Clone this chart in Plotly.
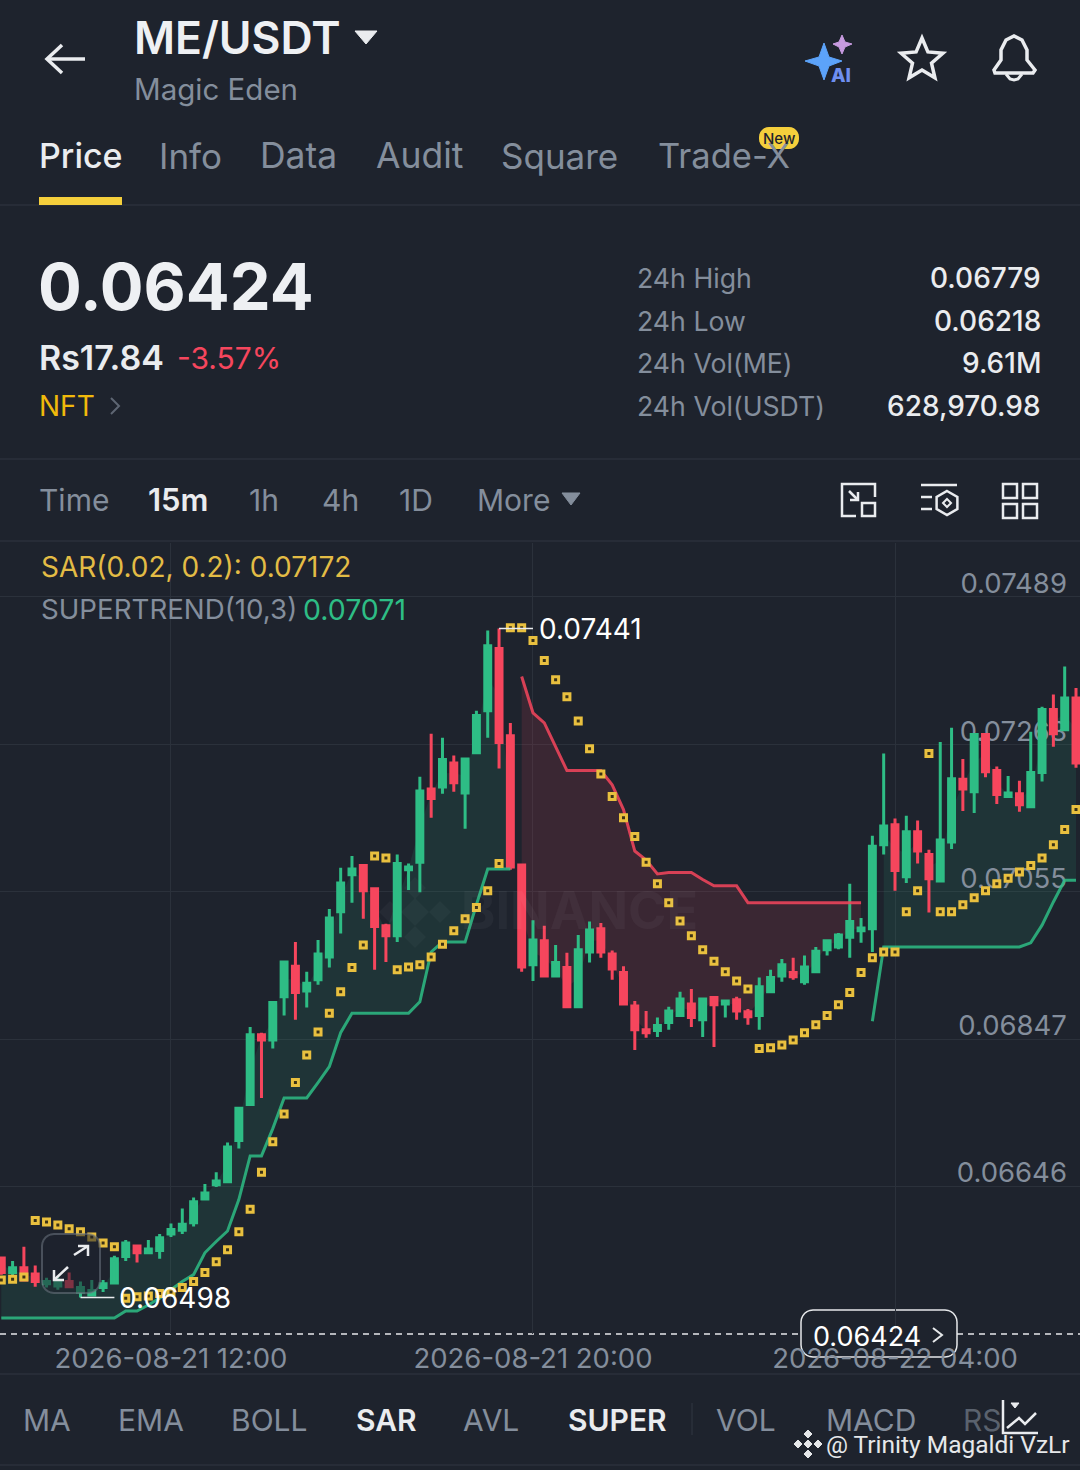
import math

import pandas as pd
import plotly.graph_objs as go
from plotly.subplots import make_subplots

W, H = 1080, 1470
BG = "#1E232D"
GRID = "#2B313B"
GRAY = "#848E9C"
WHITE = "#EAECEF"
YELLOW = "#F0B90B"
GREEN = "#2EBD85"
RED = "#F6465D"
FONT = "Inter"

# 15m candles, first one 2026-08-21 08:15
times = pd.date_range("2026-08-21 08:15", periods=96, freq="15min")

opens = [
    0.06550, 0.06531, 0.06537, 0.06529, 0.06516, 0.06513, 0.06519, 0.06505, 0.06501, 0.06511, 0.06517, 0.06552,
    0.06566, 0.06557, 0.06560, 0.06582, 0.06587, 0.06597, 0.06629, 0.06648, 0.06652, 0.06708, 0.06757, 0.06853,
    0.06846, 0.06906, 0.06949, 0.06914, 0.06930, 0.06962, 0.07026, 0.07079, 0.07092, 0.07059, 0.07006, 0.06992,
    0.07086, 0.07097, 0.07203, 0.07206, 0.07241, 0.07197, 0.07256, 0.07318, 0.07411, 0.07281, 0.07093, 0.06951,
    0.06985, 0.06935, 0.06947, 0.06892, 0.06969, 0.07002, 0.06966, 0.06940, 0.06893, 0.06860, 0.06859, 0.06870,
    0.06880, 0.06896, 0.06874, 0.06905, 0.06896, 0.06902, 0.06885, 0.06880, 0.06913, 0.06935, 0.06940, 0.06927,
    0.06941, 0.06972, 0.06976, 0.06990, 0.06999, 0.07002, 0.07122, 0.07151, 0.07076, 0.07141, 0.07108, 0.07070,
    0.07126, 0.07217, 0.07199, 0.07283, 0.07230, 0.07192, 0.07196, 0.07177, 0.07227, 0.07320, 0.07290, 0.07337,
]
highs = [
    0.06552, 0.06546, 0.06565, 0.06540, 0.06524, 0.06525, 0.06531, 0.06519, 0.06521, 0.06521, 0.06553, 0.06574,
    0.06567, 0.06574, 0.06582, 0.06596, 0.06616, 0.06631, 0.06649, 0.06665, 0.06705, 0.06754, 0.06864, 0.06856,
    0.06900, 0.06955, 0.06983, 0.06941, 0.06986, 0.07030, 0.07089, 0.07106, 0.07093, 0.07059, 0.07009, 0.07108,
    0.07095, 0.07221, 0.07284, 0.07278, 0.07252, 0.07247, 0.07318, 0.07438, 0.07441, 0.07300, 0.07093, 0.07014,
    0.07006, 0.06979, 0.06968, 0.06993, 0.07012, 0.07010, 0.06971, 0.06949, 0.06900, 0.06886, 0.06877, 0.06892,
    0.06913, 0.06917, 0.06903, 0.06906, 0.06900, 0.06906, 0.06889, 0.06933, 0.06944, 0.06959, 0.06961, 0.06964,
    0.06976, 0.06985, 0.06996, 0.07066, 0.07017, 0.07135, 0.07255, 0.07160, 0.07164, 0.07157, 0.07115, 0.07272,
    0.07293, 0.07247, 0.07285, 0.07285, 0.07236, 0.07222, 0.07215, 0.07287, 0.07324, 0.07342, 0.07384, 0.07352,
]
lows = [
    0.06528, 0.06525, 0.06520, 0.06512, 0.06511, 0.06508, 0.06511, 0.06498, 0.06501, 0.06505, 0.06516, 0.06546,
    0.06544, 0.06557, 0.06549, 0.06578, 0.06582, 0.06592, 0.06629, 0.06645, 0.06652, 0.06697, 0.06755, 0.06766,
    0.06834, 0.06880, 0.06874, 0.06891, 0.06923, 0.06947, 0.06995, 0.07039, 0.07016, 0.06944, 0.06955, 0.06983,
    0.07057, 0.07054, 0.07161, 0.07196, 0.07199, 0.07145, 0.07256, 0.07278, 0.07233, 0.07086, 0.06941, 0.06928,
    0.06935, 0.06934, 0.06892, 0.06892, 0.06954, 0.06961, 0.06930, 0.06896, 0.06832, 0.06849, 0.06850, 0.06860,
    0.06880, 0.06864, 0.06850, 0.06836, 0.06877, 0.06874, 0.06867, 0.06860, 0.06913, 0.06927, 0.06930, 0.06923,
    0.06940, 0.06964, 0.06973, 0.06961, 0.06982, 0.06969, 0.07108, 0.07056, 0.07067, 0.07095, 0.07025, 0.07070,
    0.07116, 0.07171, 0.07168, 0.07220, 0.07181, 0.07192, 0.07170, 0.07177, 0.07214, 0.07265, 0.07290, 0.07234,
]
closes = [
    0.06531, 0.06537, 0.06521, 0.06519, 0.06519, 0.06519, 0.06512, 0.06511, 0.06507, 0.06516, 0.06549, 0.06570,
    0.06557, 0.06562, 0.06577, 0.06588, 0.06595, 0.06625, 0.06637, 0.06653, 0.06699, 0.06752, 0.06853, 0.06846,
    0.06898, 0.06955, 0.06912, 0.06925, 0.06966, 0.07017, 0.07067, 0.07087, 0.07056, 0.07005, 0.06992, 0.07095,
    0.07090, 0.07200, 0.07189, 0.07246, 0.07212, 0.07247, 0.07311, 0.07415, 0.07271, 0.07090, 0.06948, 0.06986,
    0.06935, 0.06954, 0.06892, 0.06972, 0.07000, 0.06969, 0.06945, 0.06896, 0.06860, 0.06856, 0.06866, 0.06886,
    0.06903, 0.06877, 0.06903, 0.06895, 0.06900, 0.06886, 0.06878, 0.06920, 0.06933, 0.06951, 0.06934, 0.06948,
    0.06970, 0.06985, 0.06993, 0.07012, 0.07003, 0.07120, 0.07149, 0.07085, 0.07141, 0.07113, 0.07073, 0.07129,
    0.07218, 0.07203, 0.07283, 0.07228, 0.07195, 0.07197, 0.07180, 0.07227, 0.07320, 0.07284, 0.07337, 0.07241,
]
sar = [
    0.06521, 0.06522, 0.06525, 0.06600, 0.06598, 0.06594, 0.06589, 0.06585, 0.06578, 0.06570, 0.06565, 0.06497,
    0.06499, 0.06500, 0.06503, 0.06505, 0.06511, 0.06519, 0.06531, 0.06545, 0.06561, 0.06585, 0.06615, 0.06665,
    0.06706, 0.06744, 0.06787, 0.06825, 0.06857, 0.06883, 0.06913, 0.06947, 0.06979, 0.07106, 0.07103, 0.06944,
    0.06948, 0.06951, 0.06962, 0.06980, 0.06999, 0.07016, 0.07032, 0.07056, 0.07095, 0.07442, 0.07442, 0.07423,
    0.07393, 0.07364, 0.07339, 0.07303, 0.07262, 0.07225, 0.07192, 0.07161, 0.07134, 0.07097, 0.07066, 0.07039,
    0.07013, 0.06992, 0.06972, 0.06956, 0.06941, 0.06928, 0.06917, 0.06834, 0.06835, 0.06839, 0.06846, 0.06856,
    0.06867, 0.06880, 0.06895, 0.06912, 0.06940, 0.06961, 0.06969, 0.06969, 0.07026, 0.07056, 0.07255, 0.07026,
    0.07026, 0.07036, 0.07046, 0.07056, 0.07066, 0.07074, 0.07083, 0.07092, 0.07103, 0.07122, 0.07144, 0.07173,
]
# supertrend(10,3) in its three runs: up, down, up
trend_up_1 = [
    0.06471, 0.06471, 0.06471, 0.06471, 0.06471, 0.06471, 0.06471, 0.06471, 0.06471, 0.06471, 0.06471, 0.06480,
    0.06480, 0.06488, 0.06497, 0.06508, 0.06519, 0.06528, 0.06557, 0.06572, 0.06586, 0.06628, 0.06687, 0.06687,
    0.06724, 0.06766, 0.06766, 0.06766, 0.06787, 0.06809, 0.06856, 0.06883, 0.06883, 0.06883, 0.06883, 0.06883,
    0.06883, 0.06899, 0.06969, 0.06983, 0.06983, 0.06983, 0.07036, 0.07087, 0.07087, 0.07087,
]
trend_down = [
    0.07369, 0.07315, 0.07300, 0.07265, 0.07230, 0.07230, 0.07230, 0.07230, 0.07209, 0.07173, 0.07113, 0.07100,
    0.07080, 0.07082, 0.07082, 0.07082, 0.07072, 0.07063, 0.07063, 0.07063, 0.07039, 0.07039, 0.07039, 0.07039,
    0.07039, 0.07039, 0.07039, 0.07039, 0.07039, 0.07039, 0.07039,
]
trend_up_2 = [
    0.06872, 0.06976, 0.06976, 0.06976, 0.06976, 0.06976, 0.06976, 0.06976, 0.06976, 0.06976, 0.06976, 0.06976,
    0.06976, 0.06976, 0.06982, 0.07007, 0.07040, 0.07071, 0.07071,
]

y_tick_vals = [0.07489, 0.07268, 0.07055, 0.06847, 0.06646]
y_tick_text = ["0.07489", "0.07268", "0.07055", "0.06847", "0.06646"]
x_tick_vals = ["2026-08-21 12:00", "2026-08-21 20:00", "2026-08-22 04:00"]

tabs = [("Price", 40, WHITE, 34), ("Info", 160, GRAY, 35), ("Data", 261, GRAY, 35.5), ("Audit", 377, GRAY, 35.5),
        ("Square", 502, GRAY, 35), ("Trade-X", 659, GRAY, 34.5)]
stats = [("24h High", "0.06779", 278), ("24h Low", "0.06218", 321),
         ("24h Vol(ME)", "9.61M", 363), ("24h Vol(USDT)", "628,970.98", 406)]
intervals = [("Time", 40, GRAY, 400), ("15m", 149, WHITE, 600), ("1h", 250, GRAY, 400),
             ("4h", 323, GRAY, 400), ("1D", 400, GRAY, 400), ("More", 478, GRAY, 400)]
indicators = [("MA", 24, GRAY, 400), ("EMA", 119, GRAY, 400), ("BOLL", 232, GRAY, 400),
              ("SAR", 357, WHITE, 600), ("AVL", 464, GRAY, 400), ("SUPER", 569, WHITE, 600),
              ("VOL", 717, GRAY, 400), ("MACD", 827, GRAY, 400), ("RS", 964, "#5A626E", 400)]


def px(x, y):
    return x / W, 1 - y / H


def label(text, x, y, size, color=WHITE, anchor="left", weight=400, family=FONT):
    # annotations sit about 2px inside their anchor
    shift = {"left": -2, "right": 2, "center": 0}[anchor]
    xp, yp = px(x + shift, y)
    fig.add_annotation(x=xp, y=yp, xref="paper", yref="paper", text=text, showarrow=False, borderpad=0,
                       xanchor=anchor, yanchor="middle",
                       font=dict(size=size, color=color, family=family, weight=weight))


def poly(points, color=WHITE, width=3, fill=None, close=False, layer="above"):
    coords = [px(*p) for p in points]
    path = "M " + " L ".join(f"{a:.5f},{b:.5f}" for a, b in coords) + (" Z" if close else "")
    fig.add_shape(type="path", path=path, xref="paper", yref="paper", layer=layer,
                  line=dict(color=color, width=width), fillcolor=fill)


def box(x0, y0, x1, y1, color=WHITE, width=2.5, fill=None, layer="above", radius=0):
    if radius:
        r = radius
        pts = []
        for cx, cy, a0 in [(x1 - r, y0 + r, -90), (x1 - r, y1 - r, 0), (x0 + r, y1 - r, 90), (x0 + r, y0 + r, 180)]:
            for k in range(7):
                a = math.radians(a0 + k * 15)
                pts.append((cx + r * math.cos(a), cy + r * math.sin(a)))
        poly(pts, color, width, fill, True, layer)
    else:
        poly([(x0, y0), (x1, y0), (x1, y1), (x0, y1)], color, width, fill, True, layer)


fig = make_subplots(specs=[[{"secondary_y": True}]])

# fills sit on the base axis so the candles on the overlay axis stay on top
mids = [(o + c) / 2 for o, c in zip(opens, closes)]
runs = [
    (0, trend_up_1, "rgba(46,189,133,0.11)", GREEN),
    (46, trend_down, "rgba(246,70,93,0.13)", RED),
    (77, trend_up_2, "rgba(46,189,133,0.11)", GREEN),
]
for start, trend, fill, _ in runs:
    skip = 1 if start == 77 else 0  # last run fills only after its jump
    idx = times[start + skip: start + len(trend)]
    fig.add_trace(go.Scatter(x=idx, y=trend[skip:], mode="lines", line=dict(width=0), hoverinfo="skip",
                             showlegend=False), secondary_y=False)
    fig.add_trace(go.Scatter(x=idx, y=mids[start + skip: start + len(trend)], mode="lines", line=dict(width=0),
                             fill="tonexty", fillcolor=fill, hoverinfo="skip", showlegend=False),
                  secondary_y=False)

# price scale labels go under the candles too, nudged down a touch towards their gridline
fig.add_trace(go.Scatter(x=["2026-08-22 07:48"] * len(y_tick_vals), y=[v * 0.9994 for v in y_tick_vals],
                         mode="text", text=y_tick_text, textposition="top left",
                         textfont=dict(size=27.5, color=GRAY, family=FONT),
                         hoverinfo="skip", showlegend=False), secondary_y=False)

fig.add_trace(go.Candlestick(x=times, open=opens, high=highs, low=lows, close=closes, whiskerwidth=0,
                             increasing=dict(line=dict(color=GREEN, width=3), fillcolor=GREEN),
                             decreasing=dict(line=dict(color=RED, width=3), fillcolor=RED),
                             showlegend=False), secondary_y=True)

for start, trend, _, color in runs:
    fig.add_trace(go.Scatter(x=times[start: start + len(trend)], y=trend, mode="lines",
                             line=dict(color=color, width=3), opacity=0.85, showlegend=False),
                  secondary_y=True)

fig.add_trace(go.Scatter(x=times, y=sar, mode="markers", showlegend=False,
                         marker=dict(symbol="square", size=6, color="#3A3116",
                                     line=dict(color="#E9C03F", width=3))), secondary_y=True)

# high / low callouts
hi = highs.index(max(highs))
lo = lows.index(min(lows))
for i in (hi, lo):
    val = highs[i] if i == hi else lows[i]
    fig.add_trace(go.Scatter(x=[times[i], times[i + 3]], y=[val, val], mode="lines", showlegend=False,
                             line=dict(color=WHITE, width=1.5)), secondary_y=True)
    fig.add_annotation(x=times[i + 3], y=math.log10(val), xref="x", yref="y2", text=f"{val:.5f}", showarrow=False,
                       xanchor="left", xshift=3 if i == lo else 4, yshift=-1,
                       font=dict(size=28, color="#FFFFFF", family=FONT))

fig.update_xaxes(range=["2026-08-21 08:13:18", "2026-08-22 08:05:18"], domain=[0, 1], rangeslider_visible=False,
                 tickmode="array", tickvals=x_tick_vals, ticktext=x_tick_vals, ticks="outside", ticklen=0,
                 tickcolor="rgba(0,0,0,0)", tickfont=dict(size=27.5, color=GRAY, family=FONT),
                 showgrid=True, gridcolor=GRID, gridwidth=1, showline=False, zeroline=False)
y_range = [math.log10(0.06450), math.log10(0.07571)]
y_domain = [1 - 1334 / H, 1 - 543 / H]
fig.update_yaxes(type="log", range=y_range, domain=y_domain, tickmode="array", tickvals=y_tick_vals,
                 showticklabels=False, ticks="", showgrid=True, gridcolor=GRID, gridwidth=1, zeroline=False,
                 secondary_y=False)
fig.update_yaxes(type="log", range=y_range, showticklabels=False, ticks="", showgrid=False, zeroline=False,
                 secondary_y=True)

fig.update_layout(width=W, height=H, margin=dict(l=0, r=0, t=0, b=0), autosize=False, paper_bgcolor=BG,
                  plot_bgcolor=BG, showlegend=False, boxgap=0.25, boxgroupgap=0.3, hovermode=False,
                  font=dict(family=FONT))

# separators
for y in (205, 459, 541, 1374, 1465):
    poly([(0, y), (W, y)], GRID, 1.5, layer="below")
poly([(692, 1403), (692, 1435)], GRID, 1.5)

# last price line, clamped to the bottom of the chart
poly([(0, 1334), (W, 1334)], "#E6E8EA", 1.5, layer="below")
fig.layout.shapes[-1].line.dash = "6px,5px"
box(801, 1310, 957, 1357, "#E6E8EA", 1.5, BG, "below", 12)
label("0.06424", 814, 1336, 27, "#FFFFFF")
poly([(933, 1328), (942, 1335), (933, 1342)], "#E6E8EA", 2)

# header
poly([(85, 59), (47, 59)], WHITE, 3.5)
poly([(62, 45), (47, 59), (62, 73)], WHITE, 3.5)
label("ME/USDT", 135, 38, 44.5, "#EEF0F3", weight=600)
poly([(355, 31), (377, 31), (366, 44)], WHITE, 1, WHITE, True)
label("Magic Eden", 135, 89, 29.5, GRAY)
poly([(805, 61), (819, 57), (824, 43), (829, 57), (842, 61), (829, 66), (824, 80), (819, 66)],
     "#5CA3FA", 1, "#5CA3FA", True)
poly([(833, 44), (839, 42), (842, 35), (845, 42), (852, 44), (845, 47), (842, 54), (839, 47)],
     "#C79ADF", 1, "#C79ADF", True)
label("AI", 832, 76, 19, "#6E8FF0", weight=800)
star = []
for k in range(10):
    r = 22 if k % 2 == 0 else 10
    a = math.radians(-90 + k * 36)
    star.append((922 + r * math.cos(a), 60 + r * math.sin(a)))
poly(star, WHITE, 3.5, None, True)
poly([(994, 70), (1001, 60), (1001, 50), (1006, 40), (1014, 36), (1022, 40), (1027, 50), (1027, 60), (1035, 70),
      (1033, 73), (995, 73)], WHITE, 3.5, None, True)
poly([(1006, 74), (1010, 79), (1014, 80), (1018, 79), (1022, 74)], WHITE, 3)

for text, x, color, size in tabs:
    label(text, x, 156, size, color, weight=500 if text == "Price" else 400)
box(39, 197, 122, 205, YELLOW, 0, "#F5CF3C")
box(759, 127, 799, 149, "#F5CF3C", 0, "#F5CF3C", radius=10)
label("New", 779, 138, 15, "#1E232D", "center", 500)

# price block
label("0.06424", 39, 287, 65, "#EEF0F3", weight=700)
label("Rs17.84", 40, 357, 34, WHITE, weight=600)
label("-3.57%", 178, 358, 30, RED)
label("NFT", 40, 406, 28, YELLOW)
poly([(111, 398), (119, 406), (111, 414)], "#5E6673", 2)
for name, value, y in stats:
    label(name, 638, y, 26.7, GRAY)
    label(value, 1040, y, 28, WHITE, "right", 500)

# interval row
for text, x, color, weight in intervals:
    label(text, x, 500, 31 if weight == 600 else 30, color, weight=weight)
poly([(562, 493), (580, 493), (571, 505)], GRAY, 1, GRAY, True)
poly([(875, 497), (875, 484), (842, 484), (842, 516), (856, 516)], WHITE, 2.5)
box(862, 503, 875, 516, WHITE, 2.5)
poly([(849, 491), (858, 500)], WHITE, 2.5)
poly([(850, 500), (858, 500), (858, 492)], WHITE, 2.5)
poly([(921, 485), (957, 485)], WHITE, 2.5)
poly([(921, 497), (932, 497)], WHITE, 2.5)
poly([(921, 509), (932, 509)], WHITE, 2.5)
hexagon = []
for k in range(6):
    a = math.radians(-90 + k * 60)
    hexagon.append((947 + 12 * math.cos(a), 503 + 12 * math.sin(a)))
poly(hexagon, WHITE, 2.5, None, True)
poly([(947, 499), (951, 503), (947, 507), (943, 503)], WHITE, 2, None, True)
for x0 in (1003, 1023):
    for y0 in (484, 504):
        box(x0, y0, x0 + 14, y0 + 14, WHITE, 2.5)

# legend lines
label("SAR(0.02, 0.2): 0.07172", 42, 567, 28, "#E3BC45")
label("SUPERTREND(10,3)", 42, 609, 27.7, GRAY)
label("0.07071", 304, 609, 28.5, GREEN)

# faint exchange watermark behind the chart
for cx, cy, r in [(415, 888, 11), (390, 912, 11), (440, 912, 11), (415, 937, 11), (415, 912, 14)]:
    poly([(cx, cy - r), (cx + r, cy), (cx, cy + r), (cx - r, cy)], "rgba(255,255,255,0)", 0,
         "rgba(255,255,255,0.035)", True, "below")
label("BINANCE", 462, 910, 52, "rgba(255,255,255,0.04)", weight=700)

# expand button
box(42, 1234, 100, 1293, "rgba(110,118,130,0.55)", 2, "rgba(30,35,45,0.55)", radius=12)
poly([(74, 1255), (88, 1246)], WHITE, 2.5)
poly([(78, 1246), (88, 1246), (88, 1256)], WHITE, 2.5)
poly([(54, 1280), (68, 1267)], WHITE, 2.5)
poly([(54, 1270), (54, 1280), (64, 1280)], WHITE, 2.5)

# indicator tabs
for text, x, color, weight in indicators:
    label(text, x, 1420, 30, color, weight=weight)
poly([(1003, 1400), (1003, 1433), (1038, 1433)], WHITE, 2.5)
poly([(1007, 1428), (1019, 1418), (1025, 1424), (1036, 1413)], WHITE, 2.5)
poly([(1011, 1403), (1019, 1403), (1015, 1408)], WHITE, 1, WHITE, True)

# screenshot overlay
for cx, cy, r in [(808, 1434, 4), (808, 1454, 4), (798, 1444, 4), (818, 1444, 4), (808, 1444, 4)]:
    poly([(cx, cy - r), (cx + r, cy), (cx, cy + r), (cx - r, cy)], "#E6E8EA", 1, "#E6E8EA", True)
label("@ Trinity Magaldi VzLr", 827, 1444, 24.5, "#E6E8EA", family="Roboto")

fig.write_html("out.html", config=dict(displayModeBar=False),
               post_script="document.body.style.margin='0';document.body.style.background='#1E232D';")
